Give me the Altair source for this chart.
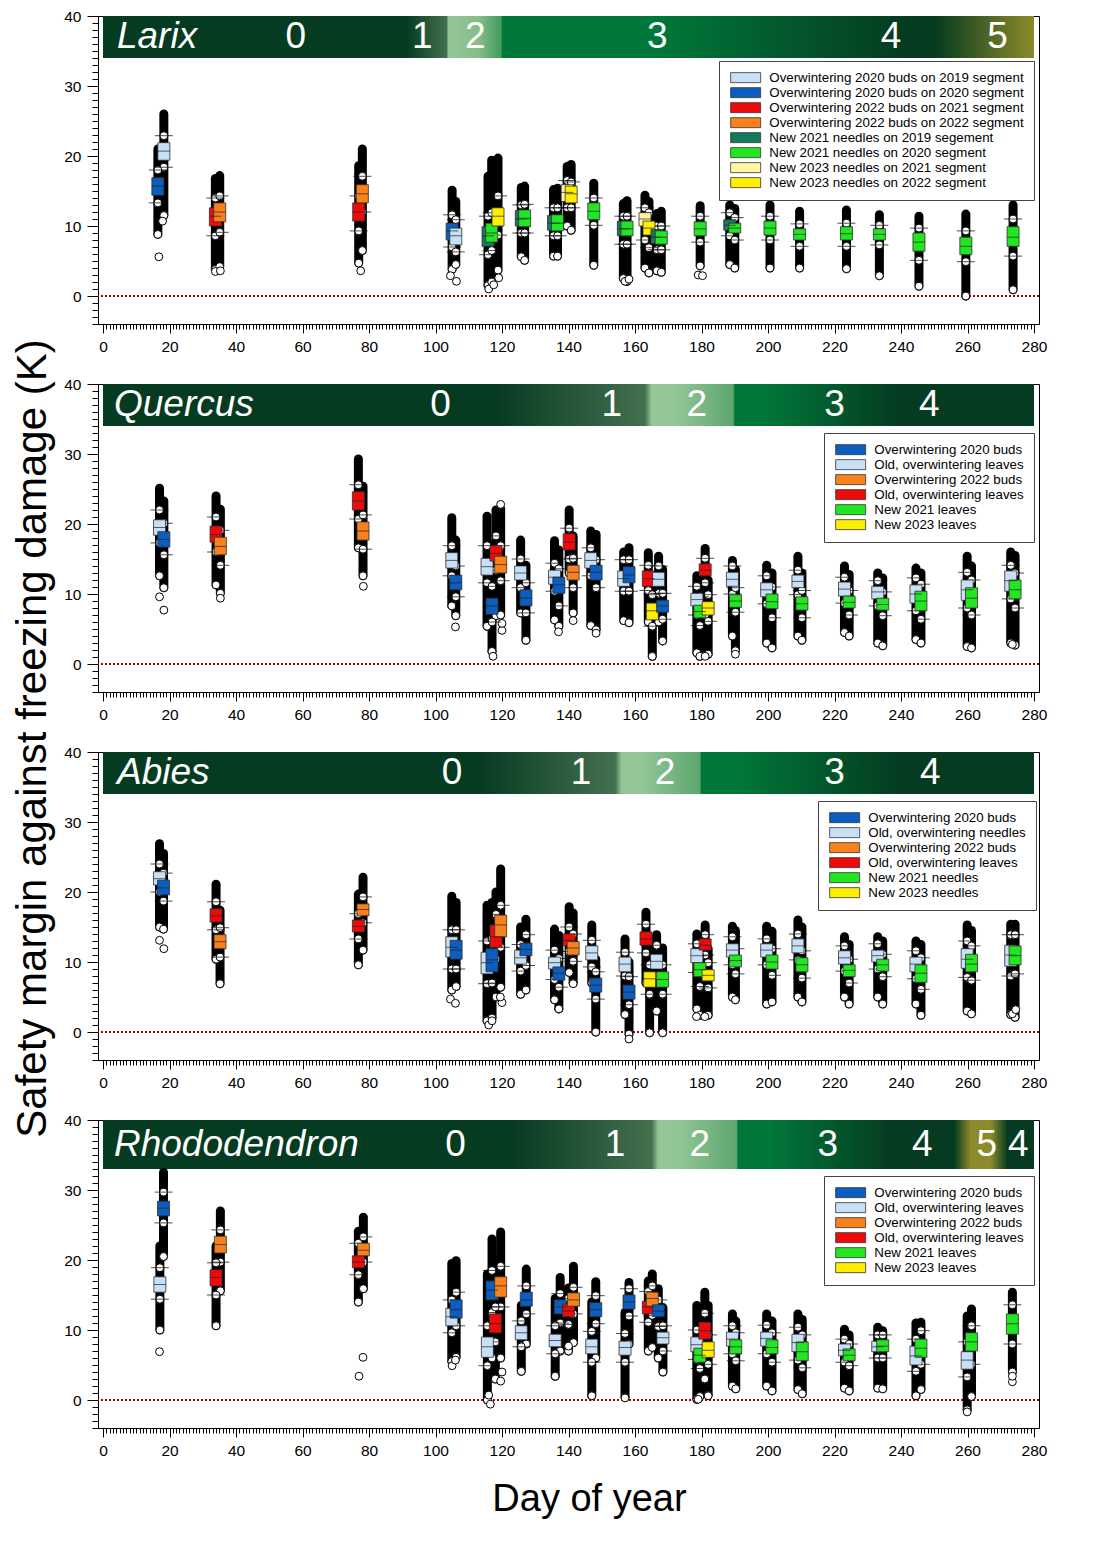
import altair as alt
import pandas as pd

FONT = "Liberation Sans"
DAY_MAX = 280
Y_LOW, Y_HIGH = -4, 40
PANEL_W, PANEL_H = 941, 308
X_TICKS = list(range(0, DAY_MAX + 1))
Y_TICKS = list(range(Y_LOW, Y_HIGH + 1))
Y_TITLE = "Safety margin against freezing damage (K)"
X_TITLE = "Day of year"

# band colours (phenology stages)
DARK = "#053b20"
MID = "#00783a"
LIGHT = "#93c697"
FADE = "#44704f"
LIGHT2 = "#5ea670"
OLIVE = "#8c8a2a"

# box colours
LIGHT_BLUE = "#c7e0f7"
DARK_BLUE = "#0b5dbf"
RED = "#ee0a0a"
ORANGE = "#f7821c"
TEAL = "#137a5b"
GREEN = "#22e622"
PALE_YELLOW = "#fff7a3"
YELLOW = "#ffee00"

# ---------------- Larix ----------------
LARIX_SERIES = [
    "Overwintering 2020 buds on 2019 segment",
    "Overwintering 2020 buds on 2020 segment",
    "Overwintering 2022 buds on 2021 segment",
    "Overwintering 2022 buds on 2022 segment",
    "New 2021 needles on 2019 segement",
    "New 2021 needles on 2020 segment",
    "New 2023 needles on 2021 segment",
    "New 2023 needles on 2022 segment",
]
LARIX_COLORS = [LIGHT_BLUE, DARK_BLUE, RED, ORANGE, TEAL, GREEN, PALE_YELLOW, YELLOW]
# day, series, p10, q1, median, q3, p90, lowest point, highest point
LARIX_BOXES = [
    (16.5, 1, 13.3, 14.4, 15.7, 16.9, 18.0, 8.8, 21.0),
    (18.3, 0, 18.4, 19.4, 20.7, 21.9, 22.9, 11.5, 26.0),
    (33.8, 2, 8.6, 10.0, 11.4, 12.6, 14.0, 3.8, 16.8),
    (35.1, 3, 9.1, 10.6, 12.0, 13.3, 14.3, 4.2, 17.2),
    (76.9, 2, 9.3, 10.7, 12.0, 13.3, 14.3, 4.7, 18.6),
    (78.0, 3, 12.0, 13.3, 14.6, 15.9, 17.1, 6.5, 21.0),
    (105.0, 1, 7.0, 8.0, 9.3, 10.4, 11.6, 3.8, 15.1),
    (106.1, 0, 6.3, 7.3, 8.6, 9.7, 10.9, 4.5, 13.5),
    (115.8, 4, 5.9, 7.1, 8.6, 9.9, 11.4, 1.5, 17.1),
    (116.9, 5, 6.5, 7.7, 9.0, 10.4, 11.9, 2.0, 19.4),
    (118.8, 7, 8.7, 10.0, 11.4, 12.6, 14.3, 3.7, 19.7),
    (125.8, 4, 9.0, 10.0, 11.0, 12.2, 13.0, 5.6, 15.5),
    (126.8, 5, 9.0, 9.9, 11.1, 12.3, 13.1, 5.1, 15.7),
    (135.5, 4, 8.6, 9.4, 10.4, 11.5, 12.6, 5.7, 15.2),
    (136.7, 5, 8.6, 9.3, 10.4, 11.6, 12.6, 5.7, 15.4),
    (139.6, 6, 12.6, 13.5, 14.8, 15.9, 16.5, 10.0, 18.5),
    (140.8, 7, 12.6, 13.3, 14.6, 15.7, 16.3, 9.4, 18.8),
    (147.6, 5, 10.1, 10.9, 12.1, 13.3, 14.0, 4.4, 16.1),
    (156.5, 4, 7.4, 8.6, 9.6, 10.7, 11.4, 2.5, 13.2),
    (157.6, 5, 7.4, 8.6, 9.6, 10.7, 11.4, 2.1, 13.6),
    (163.0, 6, 8.0, 10.0, 11.0, 11.9, 12.6, 4.0, 14.4),
    (164.2, 7, 6.9, 8.7, 9.7, 10.7, 11.9, 3.3, 13.5),
    (166.6, 4, 6.6, 7.5, 8.4, 9.5, 10.0, 3.6, 11.8),
    (167.9, 5, 6.6, 7.4, 8.4, 9.3, 10.0, 3.4, 12.1),
    (179.6, 5, 7.7, 8.6, 9.6, 10.6, 11.4, 4.3, 12.9),
    (188.5, 4, 8.6, 9.4, 10.1, 10.9, 11.9, 4.5, 13.0),
    (190.0, 5, 8.0, 9.0, 9.7, 10.4, 11.2, 4.0, 12.5),
    (200.6, 5, 8.0, 8.7, 9.7, 10.7, 11.4, 4.0, 13.0),
    (209.5, 5, 7.1, 8.0, 8.8, 9.6, 10.3, 4.0, 12.1),
    (223.6, 5, 7.1, 8.0, 8.9, 9.9, 10.4, 3.9, 12.3),
    (233.5, 5, 7.3, 8.0, 8.8, 9.6, 10.1, 2.9, 11.6),
    (245.4, 5, 5.1, 6.4, 7.7, 9.0, 9.7, 1.4, 11.4),
    (259.5, 5, 4.9, 5.9, 7.1, 8.4, 9.3, 0.0, 11.7),
    (273.7, 5, 5.7, 7.1, 8.4, 9.9, 11.0, 0.9, 13.0),
]
LARIX_OUTLIERS = [
    (16.8, 5.6), (17.9, 10.7), (33.8, 3.5), (35.3, 3.6), (77.5, 3.6),
    (104.5, 2.9), (106.3, 2.1), (116.0, 1.0), (117.5, 1.6), (119.0, 2.6),
    (157.0, 2.1), (158.2, 2.4), (179.0, 3.0), (180.3, 2.9), (259.5, 0.0),
]
LARIX_STAGES = [("0", 58), ("1", 96), ("2", 112), ("3", 166.7), ("4", 237), ("5", 269)]
LARIX_BAND = [(0, DARK), (91, DARK), (103.5, FADE), (103.7, LIGHT), (113, "#86bd8b"),
              (119.8, "#3d9b5c"), (120, MID), (166, MID), (242, DARK), (250, DARK), (280, OLIVE)]

# ---------------- Quercus ----------------
QUERCUS_SERIES = [
    "Overwintering 2020 buds",
    "Old, overwintering leaves",
    "Overwintering 2022 buds",
    "Old, overwintering leaves ",
    "New 2021 leaves",
    "New 2023 leaves",
]
QUERCUS_COLORS = [DARK_BLUE, LIGHT_BLUE, ORANGE, RED, GREEN, YELLOW]
QUERCUS_BOXES = [
    (17.0, 1, 17.3, 18.4, 19.5, 20.6, 22.0, 12.6, 25.1),
    (18.3, 0, 15.6, 16.7, 17.8, 18.9, 20.1, 10.9, 23.3),
    (34.0, 3, 16.0, 17.4, 18.5, 19.7, 21.0, 11.3, 24.0),
    (35.3, 2, 14.1, 15.6, 16.8, 18.1, 19.1, 10.1, 22.1),
    (76.8, 3, 20.7, 22.0, 23.3, 24.6, 25.6, 16.6, 29.3),
    (78.2, 2, 16.4, 17.7, 19.0, 20.3, 21.3, 12.6, 25.4),
    (104.9, 1, 12.6, 13.7, 14.8, 15.9, 16.9, 8.3, 20.9),
    (106.1, 0, 9.6, 10.6, 11.6, 12.7, 14.0, 6.9, 17.7),
    (115.5, 1, 11.6, 12.7, 13.9, 15.1, 16.9, 5.4, 21.1),
    (117.0, 0, 6.0, 7.1, 8.3, 9.4, 11.1, 1.8, 17.0),
    (118.2, 3, 13.4, 14.7, 15.8, 16.9, 18.3, 6.9, 22.0),
    (119.6, 2, 11.9, 13.0, 14.2, 15.4, 16.9, 7.0, 22.2),
    (125.6, 1, 10.9, 12.0, 13.0, 14.0, 15.0, 7.3, 17.7),
    (127.2, 0, 7.3, 8.3, 9.4, 10.6, 11.6, 3.4, 14.1),
    (135.8, 1, 10.4, 11.4, 12.4, 13.4, 14.4, 6.3, 17.6),
    (137.1, 0, 8.3, 10.1, 11.3, 12.4, 13.6, 5.4, 16.3),
    (140.2, 3, 15.0, 16.3, 17.4, 18.6, 19.4, 13.0, 22.0),
    (141.4, 2, 10.9, 12.0, 13.1, 14.1, 15.1, 7.3, 18.3),
    (146.7, 1, 12.6, 13.7, 14.8, 15.9, 16.6, 5.5, 19.0),
    (148.3, 0, 10.9, 12.0, 13.1, 14.1, 14.9, 4.9, 18.5),
    (156.6, 1, 10.4, 11.1, 12.2, 13.3, 14.9, 6.2, 16.0),
    (158.2, 0, 10.4, 11.6, 12.7, 13.9, 14.9, 5.9, 16.6),
    (164.0, 3, 10.5, 11.1, 12.2, 13.3, 14.1, 6.0, 15.9),
    (165.2, 5, 5.4, 6.3, 7.6, 8.7, 9.9, 1.1, 12.0),
    (167.1, 1, 10.1, 11.1, 12.1, 13.1, 14.0, 6.0, 15.4),
    (168.3, 0, 6.4, 7.4, 8.3, 9.1, 10.1, 3.3, 13.5),
    (178.6, 1, 7.0, 8.3, 9.2, 10.1, 11.1, 1.6, 12.6),
    (179.5, 4, 5.5, 6.6, 7.5, 8.4, 9.6, 1.1, 11.5),
    (181.1, 3, 11.6, 12.6, 13.4, 14.3, 15.1, 7.0, 16.5),
    (182.0, 5, 6.1, 7.0, 8.0, 8.9, 9.9, 1.4, 12.0),
    (189.3, 1, 10.0, 11.1, 12.1, 13.1, 14.0, 4.0, 14.8),
    (190.2, 4, 7.4, 8.1, 9.0, 9.9, 10.9, 1.9, 13.5),
    (199.6, 1, 8.6, 9.6, 10.6, 11.6, 12.6, 3.0, 14.1),
    (201.2, 4, 6.6, 7.9, 8.9, 10.0, 11.0, 2.3, 13.0),
    (209.0, 1, 9.9, 10.9, 11.8, 12.7, 13.4, 4.0, 15.4),
    (210.2, 4, 6.6, 7.7, 8.6, 9.6, 10.5, 3.4, 13.0),
    (223.0, 1, 8.7, 9.7, 10.7, 11.7, 12.4, 4.5, 14.0),
    (224.4, 4, 7.0, 8.0, 8.8, 9.7, 10.5, 4.0, 12.8),
    (233.0, 1, 8.3, 9.3, 10.3, 11.1, 11.9, 3.0, 13.0),
    (234.5, 4, 6.9, 7.7, 8.5, 9.4, 10.3, 2.6, 12.3),
    (244.5, 1, 7.6, 8.7, 10.0, 11.3, 12.3, 3.5, 13.7),
    (246.0, 4, 6.4, 7.6, 9.0, 10.4, 11.4, 3.0, 13.0),
    (259.9, 1, 8.0, 9.1, 10.6, 12.0, 13.1, 2.5, 15.4),
    (261.2, 4, 7.0, 8.0, 9.4, 10.9, 12.0, 2.3, 14.0),
    (273.0, 1, 9.3, 10.4, 11.9, 13.3, 14.1, 3.0, 16.0),
    (274.3, 4, 8.0, 9.3, 10.6, 12.0, 13.0, 2.7, 15.5),
]
QUERCUS_OUTLIERS = [
    (17.0, 9.6), (18.3, 7.7), (35.3, 9.4), (78.3, 11.1), (106.0, 5.3),
    (117.0, 1.8), (117.3, 1.1), (119.6, 22.8), (120.0, 4.8), (120.0, 5.8),
    (137.0, 4.6), (141.4, 6.2), (148.3, 4.4), (165.2, 1.1), (181.1, 1.1),
    (190.2, 1.4), (273.5, 2.8),
]
QUERCUS_STAGES = [("0", 101.5), ("1", 153), ("2", 178.6), ("3", 220), ("4", 248.5)]
QUERCUS_BAND = [(0, DARK), (118, DARK), (163, FADE), (165, LIGHT), (172, LIGHT),
                (189.5, LIGHT2), (190, MID), (198, MID), (240, DARK), (280, DARK)]

# ---------------- Abies ----------------
ABIES_SERIES = [
    "Overwintering 2020 buds",
    "Old, overwintering needles",
    "Overwintering 2022 buds",
    "Old, overwintering leaves",
    "New 2021 needles",
    "New 2023 needles",
]
ABIES_COLORS = [DARK_BLUE, LIGHT_BLUE, ORANGE, RED, GREEN, YELLOW]
ABIES_BOXES = [
    (17.0, 1, 20.0, 21.0, 21.9, 22.9, 24.0, 15.0, 26.9),
    (18.2, 0, 18.7, 19.6, 20.6, 21.7, 22.7, 14.7, 25.5),
    (34.0, 3, 14.6, 15.7, 16.6, 17.6, 18.6, 10.4, 21.1),
    (35.2, 2, 10.7, 11.9, 12.9, 13.9, 14.9, 6.9, 17.4),
    (76.8, 3, 13.3, 14.3, 15.1, 16.0, 16.9, 9.6, 19.7),
    (78.2, 2, 15.6, 16.6, 17.5, 18.3, 19.3, 11.7, 22.1),
    (104.9, 1, 9.0, 10.7, 12.1, 13.6, 14.6, 6.0, 19.4),
    (106.2, 0, 9.0, 10.4, 11.7, 13.1, 14.6, 6.5, 18.5),
    (115.5, 1, 6.9, 8.3, 9.9, 11.4, 13.0, 1.6, 18.1),
    (117.0, 0, 7.0, 8.6, 10.3, 11.9, 13.3, 2.0, 18.5),
    (118.2, 3, 10.4, 12.1, 13.6, 15.3, 16.8, 5.0, 20.0),
    (119.6, 2, 12.1, 13.6, 15.3, 16.7, 18.1, 6.4, 23.3),
    (125.6, 1, 8.7, 9.7, 10.6, 11.7, 12.5, 5.4, 15.0),
    (127.2, 0, 9.5, 10.9, 11.8, 12.7, 13.9, 6.0, 16.1),
    (135.8, 1, 7.5, 9.0, 9.9, 10.7, 11.7, 4.6, 14.7),
    (137.1, 0, 6.4, 7.4, 8.4, 9.3, 10.5, 3.3, 13.8),
    (140.2, 3, 11.5, 12.3, 13.1, 14.0, 15.0, 8.5, 17.9),
    (141.4, 2, 10.1, 11.0, 12.0, 12.9, 14.0, 7.0, 17.0),
    (147.0, 1, 9.3, 10.3, 11.3, 12.3, 13.1, 7.0, 15.3),
    (148.2, 0, 4.7, 5.7, 6.7, 7.7, 8.6, 0.0, 10.4),
    (157.0, 1, 8.0, 8.6, 9.7, 10.7, 11.4, 2.5, 13.3),
    (158.2, 0, 3.9, 4.7, 5.7, 6.7, 7.9, -0.3, 10.0),
    (163.3, 3, 11.3, 12.4, 13.3, 14.3, 15.4, 7.0, 17.1),
    (164.4, 5, 5.4, 6.4, 7.6, 8.6, 9.6, -0.1, 12.0),
    (166.5, 1, 8.0, 9.0, 10.1, 11.1, 12.4, 3.0, 13.9),
    (168.3, 4, 5.4, 6.4, 7.5, 8.6, 9.6, -0.1, 12.0),
    (178.6, 1, 8.5, 9.9, 10.9, 11.9, 12.6, 3.3, 14.0),
    (179.5, 4, 6.5, 7.9, 8.9, 9.9, 10.9, 2.4, 12.8),
    (181.1, 3, 11.0, 11.7, 12.4, 13.3, 13.9, 8.0, 15.3),
    (182.0, 5, 6.3, 7.3, 8.1, 8.9, 9.9, 2.4, 11.9),
    (189.3, 1, 9.6, 10.7, 11.7, 12.6, 13.6, 5.0, 15.1),
    (190.2, 4, 8.3, 9.3, 10.2, 11.0, 11.9, 4.6, 14.5),
    (199.6, 1, 9.6, 10.7, 11.7, 12.6, 13.3, 4.0, 15.1),
    (201.2, 4, 8.1, 9.0, 10.0, 11.0, 11.9, 4.3, 14.4),
    (209.0, 1, 10.3, 11.3, 12.3, 13.3, 14.0, 5.0, 16.0),
    (210.2, 4, 7.7, 8.6, 9.6, 10.6, 11.6, 4.3, 15.0),
    (223.0, 1, 8.7, 9.7, 10.6, 11.6, 12.3, 5.0, 13.6),
    (224.4, 4, 7.0, 7.9, 8.8, 9.6, 10.4, 4.0, 12.5),
    (233.0, 1, 9.0, 10.0, 10.9, 11.7, 12.6, 5.0, 13.6),
    (234.5, 4, 7.9, 8.7, 9.6, 10.4, 11.1, 4.0, 13.0),
    (244.5, 1, 7.6, 8.6, 9.7, 10.7, 11.6, 4.0, 13.0),
    (246.0, 4, 6.1, 7.1, 8.4, 9.6, 10.6, 2.4, 12.5),
    (259.9, 1, 7.8, 9.1, 10.4, 11.9, 13.0, 3.0, 15.3),
    (261.2, 4, 7.4, 8.6, 9.7, 11.1, 12.3, 2.6, 14.5),
    (273.0, 1, 8.0, 9.4, 11.0, 12.4, 13.9, 2.5, 15.4),
    (274.3, 4, 8.3, 9.6, 10.9, 12.3, 13.9, 2.1, 15.4),
]
ABIES_OUTLIERS = [
    (17.0, 13.1), (18.3, 11.9), (104.5, 4.7), (106.0, 4.1), (116.0, 1.0),
    (117.0, 1.6), (120.0, 4.2), (119.5, 5.0), (137.1, 3.3), (141.4, 6.9),
    (158.2, -1.0), (164.4, -0.1), (168.3, -0.1), (178.5, 2.2), (181.0, 2.2),
    (273.5, 2.6), (274.5, 3.2),
]
ABIES_STAGES = [("0", 105), ("1", 143.8), ("2", 169), ("3", 220), ("4", 248.8)]
ABIES_BAND = [(0, DARK), (113, DARK), (154, FADE), (156, LIGHT), (162, LIGHT),
              (179.5, LIGHT2), (180, MID), (190, MID), (240, DARK), (280, DARK)]

# ---------------- Rhododendron ----------------
RHODO_SERIES = QUERCUS_SERIES
RHODO_COLORS = QUERCUS_COLORS
RHODO_BOXES = [
    (17.1, 1, 14.4, 15.4, 16.5, 17.6, 18.9, 10.0, 22.0),
    (18.2, 0, 25.3, 26.3, 27.4, 28.4, 29.7, 20.5, 32.5),
    (34.0, 3, 15.0, 16.3, 17.5, 18.6, 19.6, 10.6, 22.0),
    (35.3, 2, 19.7, 21.0, 22.2, 23.4, 24.3, 15.6, 27.0),
    (76.8, 3, 17.9, 18.9, 19.7, 20.6, 22.4, 14.0, 24.1),
    (78.3, 2, 19.7, 20.6, 21.4, 22.4, 23.3, 15.9, 26.1),
    (104.9, 1, 9.6, 10.6, 11.9, 13.1, 14.3, 5.5, 19.5),
    (106.2, 0, 10.6, 11.7, 12.9, 14.3, 15.4, 6.1, 19.9),
    (115.6, 1, 4.9, 6.1, 7.6, 9.0, 10.6, 0.0, 18.0),
    (117.0, 0, 12.5, 14.3, 15.7, 17.0, 18.5, 6.0, 23.0),
    (118.0, 3, 8.3, 9.6, 10.9, 12.3, 13.3, 3.0, 20.0),
    (119.6, 2, 13.3, 14.7, 16.3, 17.6, 19.1, 6.0, 24.0),
    (125.8, 1, 7.6, 8.6, 9.6, 10.6, 11.3, 4.1, 13.5),
    (127.3, 0, 12.3, 13.4, 14.3, 15.4, 16.3, 8.0, 18.7),
    (136.0, 1, 6.6, 7.6, 8.5, 9.4, 10.6, 3.4, 14.5),
    (137.5, 0, 11.0, 12.3, 13.3, 14.3, 15.2, 7.0, 17.5),
    (140.0, 3, 10.8, 11.9, 12.7, 13.7, 14.5, 7.0, 16.0),
    (141.5, 2, 12.3, 13.4, 14.3, 15.3, 16.1, 8.2, 19.1),
    (147.0, 1, 5.4, 6.6, 7.6, 8.7, 9.8, 0.6, 14.0),
    (148.2, 0, 10.9, 11.9, 12.9, 13.9, 14.9, 6.0, 16.9),
    (157.0, 1, 5.4, 6.4, 7.5, 8.4, 9.5, 0.4, 12.5),
    (158.2, 0, 12.0, 13.0, 14.0, 15.0, 15.9, 8.0, 16.8),
    (164.0, 3, 11.1, 12.3, 13.3, 14.1, 15.5, 7.0, 17.0),
    (165.2, 2, 12.1, 13.4, 14.5, 15.4, 16.3, 7.5, 18.0),
    (167.0, 0, 10.5, 11.9, 12.7, 13.6, 14.3, 6.0, 15.9),
    (168.4, 1, 7.0, 8.0, 8.9, 9.7, 10.6, 4.0, 13.2),
    (178.6, 1, 5.8, 6.9, 7.9, 9.0, 10.0, 0.1, 13.5),
    (179.5, 4, 4.5, 5.4, 6.4, 7.4, 8.5, 0.5, 12.0),
    (181.0, 3, 7.5, 8.7, 9.9, 11.1, 12.4, 3.0, 15.4),
    (182.0, 5, 5.1, 6.1, 7.1, 8.3, 9.3, 0.7, 13.5),
    (189.3, 1, 6.6, 7.7, 8.7, 9.7, 10.6, 2.0, 12.3),
    (190.3, 4, 5.6, 6.6, 7.6, 8.6, 9.6, 1.6, 11.3),
    (199.6, 1, 6.6, 7.7, 8.8, 9.7, 10.7, 2.0, 12.3),
    (201.2, 4, 5.4, 6.6, 7.5, 8.6, 9.6, 1.3, 11.3),
    (209.0, 1, 5.7, 6.9, 8.2, 9.4, 10.4, 1.5, 12.3),
    (210.3, 4, 4.6, 5.6, 6.9, 8.3, 9.3, 0.9, 11.5),
    (223.0, 1, 5.4, 6.3, 7.1, 8.0, 8.7, 1.7, 10.1),
    (224.4, 4, 4.9, 5.6, 6.4, 7.3, 8.0, 1.3, 9.3),
    (233.0, 1, 6.0, 6.9, 7.6, 8.4, 9.3, 1.7, 10.4),
    (234.5, 4, 6.0, 6.9, 7.7, 8.6, 9.3, 1.6, 9.9),
    (244.5, 1, 4.1, 5.0, 6.3, 7.7, 8.7, 0.6, 11.0),
    (246.0, 4, 5.1, 6.1, 7.4, 8.7, 9.9, 1.5, 11.1),
    (259.9, 1, 3.3, 4.4, 5.7, 6.9, 8.3, -1.4, 12.0),
    (261.2, 4, 5.1, 7.0, 8.3, 9.6, 10.6, 0.5, 13.0),
    (273.5, 4, 8.0, 9.4, 10.9, 12.3, 13.6, 4.0, 15.4),
]
RHODO_OUTLIERS = [
    (17.0, 6.9), (78.2, 6.1), (77.0, 3.4), (105.0, 4.9), (106.0, 5.7),
    (116.5, -0.6), (116.0, 0.7), (119.6, 2.7), (120.0, 4.0), (136.0, 3.4),
    (140.0, 7.7), (147.0, 0.6), (157.0, 0.3), (179.0, 0.1), (182.0, 0.6),
    (259.9, -1.7), (273.5, 2.6), (273.5, 3.4),
]
RHODO_STAGES = [("0", 106), ("1", 154), ("2", 179.5), ("3", 218), ("4", 246.4), ("5", 265.8), ("4", 275.3)]
RHODO_BAND = [(0, DARK), (123, DARK), (165, FADE), (167, LIGHT), (173, LIGHT),
              (190.5, LIGHT2), (191, MID), (200, MID), (238, DARK), (256, DARK),
              (261, OLIVE), (267, OLIVE), (272, DARK), (280, DARK)]


def x_enc(field, last):
    extra = dict(title=None)
    if last:
        extra = dict(title=X_TITLE, titleFont=FONT, titleFontSize=38, titleFontWeight="normal",
                     titlePadding=20, titleX=491, titleAlign="center")
    axis = alt.Axis(
        values=X_TICKS,
        labelExpr="datum.value % 20 === 0 ? datum.label : ''",
        labelOverlap=False, labelFlush=False,
        tickSize={"condition": {"test": "datum.value % 20 === 0", "value": 9}, "value": 5},
        labelPadding=6, minExtent=32, maxExtent=32, **extra,
    )
    return alt.X(f"{field}:Q", scale=alt.Scale(domain=[0, DAY_MAX], nice=False, zero=False), axis=axis)


def y_enc(field, with_title):
    extra = dict(title=None)
    if with_title:
        extra = dict(title=Y_TITLE, titleX=-66, titleY=354, titleAngle=270, titleAlign="center",
                     titleBaseline="middle", titleFont=FONT, titleFontSize=42, titleFontWeight="normal")
    axis = alt.Axis(
        values=Y_TICKS,
        labelExpr="datum.value % 10 === 0 && datum.value >= 0 ? datum.label : ''",
        labelOverlap=False,
        tickSize={"condition": {"test": "datum.value % 10 === 0", "value": 11}, "value": 6},
        labelPadding=6, minExtent=35, maxExtent=35, **extra,
    )
    return alt.Y(f"{field}:Q", scale=alt.Scale(domain=[Y_LOW, Y_HIGH], nice=False, zero=False), axis=axis)


def panel(taxon, taxon_day, series, colors, boxes, outliers, stages, band, floor,
          legend_xy, y_title=False, last=False):
    X = lambda f: x_enc(f, last)
    Y = lambda f: y_enc(f, y_title)

    df = pd.DataFrame(boxes, columns=["day", "s", "p10", "q1", "median", "q3", "p90", "low", "high"])
    df["series"] = [series[i] for i in df["s"]]

    whisk = df.melt(id_vars=["day"], value_vars=["p10", "p90"], value_name="value")[["day", "value"]]
    ends = df[["day", "low"]].rename(columns={"low": "value"})
    outs = pd.DataFrame(outliers, columns=["day", "value"])
    rings = pd.concat([ends, outs, whisk], ignore_index=True)

    band_df = pd.DataFrame({"start": [0], "end": [DAY_MAX], "floor": [floor], "top": [Y_HIGH]})
    mid = (floor + Y_HIGH) / 2
    stage_df = pd.DataFrame({"label": [s[0] for s in stages], "day": [s[1] for s in stages], "y": mid})
    name_df = pd.DataFrame({"label": [taxon], "day": [taxon_day], "y": [mid]})
    zero_df = pd.DataFrame({"v": [0]})

    grad = alt.LinearGradient(
        gradient="linear", x1=0, x2=1, y1=0, y2=0,
        stops=[alt.GradientStop(color=c, offset=d / DAY_MAX) for d, c in band],
    )

    band_layer = alt.Chart(band_df).mark_rect(fill=grad).encode(
        x=X("start"), x2="end", y=Y("floor"), y2="top")
    name_layer = alt.Chart(name_df).mark_text(
        font=FONT, fontSize=37, fontStyle="italic", color="white", align="left", baseline="middle"
    ).encode(x=X("day"), y=Y("y"), text="label:N")
    stage_layer = alt.Chart(stage_df).mark_text(
        font=FONT, fontSize=37, color="white", align="center", baseline="middle"
    ).encode(x=X("day"), y=Y("y"), text="label:N")
    zero_layer = alt.Chart(zero_df).mark_rule(
        color="#a00000", strokeDash=[2, 2], strokeWidth=2.2).encode(y=Y("v"))

    columns = alt.Chart(df).mark_rule(color="black", strokeWidth=9, strokeCap="round").encode(
        x=X("day"), y=Y("low"), y2="high")
    ring_layer = alt.Chart(rings).mark_circle(
        size=62, fill="white", stroke="black", strokeWidth=1, opacity=1).encode(x=X("day"), y=Y("value"))
    caps = alt.Chart(whisk).mark_tick(orient="horizontal", size=18, thickness=1, color="black").encode(
        x=X("day"), y=Y("value"))
    boxes_layer = alt.Chart(df).mark_bar(width=12, stroke="#303030", strokeWidth=0.8).encode(
        x=X("day"), y=Y("q1"), y2="q3",
        color=alt.Color(
            "series:N",
            scale=alt.Scale(domain=series, range=colors),
            legend=alt.Legend(
                orient="none", legendX=legend_xy[0], legendY=legend_xy[1], title=None,
                symbolType="M-1,-1H5V1H-1Z", symbolSize=100, symbolStrokeColor="#333333",
                symbolStrokeWidth=0.8, symbolOpacity=1, labelFont=FONT, labelFontSize=13.3,
                labelColor="black", labelOffset=27, labelLimit=400, padding=10, rowPadding=0,
                fillColor="white", strokeColor="#444444",
            ),
        ),
    )
    medians = alt.Chart(df).mark_tick(orient="horizontal", size=12, thickness=1, color="#222222").encode(
        x=X("day"), y=Y("median"))

    return alt.layer(
        band_layer, name_layer, stage_layer, zero_layer, columns, ring_layer, caps, boxes_layer, medians
    ).properties(width=PANEL_W, height=PANEL_H)


p1 = panel("Larix", 4.2, LARIX_SERIES, LARIX_COLORS, LARIX_BOXES, LARIX_OUTLIERS,
           LARIX_STAGES, LARIX_BAND, 34, (621, 45))
p2 = panel("Quercus", 3.3, QUERCUS_SERIES, QUERCUS_COLORS, QUERCUS_BOXES, QUERCUS_OUTLIERS,
           QUERCUS_STAGES, QUERCUS_BAND, 34, (726, 49), y_title=True)
p3 = panel("Abies", 4.2, ABIES_SERIES, ABIES_COLORS, ABIES_BOXES, ABIES_OUTLIERS,
           ABIES_STAGES, ABIES_BAND, 34, (720, 49))
p4 = panel("Rhododendron", 3.3, RHODO_SERIES, RHODO_COLORS, RHODO_BOXES, RHODO_OUTLIERS,
           RHODO_STAGES, RHODO_BAND, 33, (726, 56), last=True)

chart = alt.vconcat(p1, p2, p3, p4, spacing=60, bounds="flush").resolve_scale(
    color="independent"
).properties(
    padding={"left": 2, "top": 0, "right": 5, "bottom": 2}
).configure_view(
    stroke="black", strokeWidth=1
).configure_axis(
    grid=False, domainColor="black", tickColor="black", labelColor="black", titleColor="black",
    labelFont=FONT, labelFontSize=15.5, domainWidth=1, tickWidth=1,
)

chart.save("out.html", embed_options={"renderer": "svg", "actions": False})
